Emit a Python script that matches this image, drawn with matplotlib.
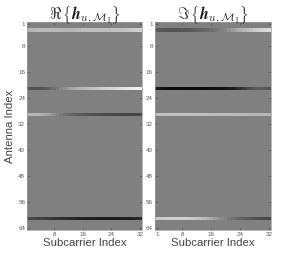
import numpy as np
import matplotlib
matplotlib.use("Agg")
import matplotlib.pyplot as plt

plt.rcParams['font.family'] = ['Liberation Sans', 'DejaVu Sans']
plt.rcParams['mathtext.fontset'] = 'cm'

n_ant = 64
n_sub = 32
y_ticks = [1, 8, 16, 24, 32, 40, 48, 56, 64]
x_ticks_left = [8, 16, 24, 32]
x_ticks_right = [1, 8, 16, 24, 32]

# Active antenna rows (1-based)
band_rows = [3, 21, 29, 61]

# Real part, values per subcarrier for each active row
re_row3 = [0.40, 0.42, 0.44, 0.45, 0.46, 0.46, 0.46, 0.45, 0.44, 0.43, 0.42, 0.42,
           0.43, 0.44, 0.46, 0.48, 0.49, 0.50, 0.50, 0.50, 0.50, 0.50, 0.50, 0.50,
           0.51, 0.52, 0.53, 0.55, 0.57, 0.60, 0.62, 0.64]
re_row21 = [-0.35, -0.36, -0.36, -0.35, -0.32, -0.27, -0.20, -0.12, -0.04, 0.04, 0.14, 0.22,
            0.30, 0.35, 0.40, 0.44, 0.47, 0.50, 0.53, 0.56, 0.59, 0.62, 0.65, 0.68,
            0.71, 0.74, 0.77, 0.80, 0.83, 0.86, 0.88, 0.90]
re_row29 = [0.40, 0.42, 0.42, 0.40, 0.36, 0.30, 0.22, 0.13, 0.04, -0.04, -0.12, -0.18,
            -0.22, -0.26, -0.29, -0.31, -0.33, -0.35, -0.36, -0.38, -0.39, -0.40, -0.41, -0.42,
            -0.43, -0.44, -0.45, -0.45, -0.46, -0.46, -0.46, -0.45]
re_row61 = [-0.42, -0.44, -0.46, -0.48, -0.50, -0.52, -0.55, -0.58, -0.60, -0.62, -0.64, -0.66,
            -0.68, -0.70, -0.72, -0.73, -0.74, -0.75, -0.76, -0.76, -0.77, -0.77, -0.77, -0.77,
            -0.77, -0.77, -0.76, -0.75, -0.74, -0.72, -0.70, -0.68]

# Imaginary part
im_row3 = [-0.30, -0.32, -0.33, -0.34, -0.34, -0.34, -0.33, -0.32, -0.31, -0.30, -0.28, -0.26,
           -0.24, -0.21, -0.18, -0.14, -0.10, -0.05, 0.00, 0.06, 0.14, 0.22, 0.30, 0.37,
           0.43, 0.48, 0.53, 0.58, 0.62, 0.66, 0.70, 0.72]
im_row21 = [-0.80, -0.84, -0.87, -0.89, -0.90, -0.91, -0.92, -0.92, -0.92, -0.92, -0.92, -0.92,
            -0.92, -0.92, -0.91, -0.90, -0.89, -0.88, -0.86, -0.84, -0.80, -0.76, -0.70, -0.62,
            -0.54, -0.46, -0.38, -0.31, -0.27, -0.27, -0.30, -0.35]
im_row29 = [0.48, 0.50, 0.51, 0.52, 0.52, 0.52, 0.52, 0.52, 0.52, 0.52, 0.51, 0.51,
            0.50, 0.50, 0.50, 0.49, 0.49, 0.48, 0.48, 0.47, 0.47, 0.46, 0.46, 0.45,
            0.45, 0.44, 0.44, 0.43, 0.43, 0.42, 0.42, 0.42]
im_row61 = [0.58, 0.60, 0.62, 0.63, 0.64, 0.64, 0.64, 0.63, 0.62, 0.60, 0.58, 0.55,
            0.51, 0.46, 0.40, 0.33, 0.25, 0.17, 0.09, 0.02, -0.05, -0.11, -0.17, -0.22,
            -0.26, -0.30, -0.33, -0.36, -0.38, -0.40, -0.41, -0.42]

re_bands = [re_row3, re_row21, re_row29, re_row61]
im_bands = [im_row3, im_row21, im_row29, im_row61]

H_re = np.zeros((n_ant, n_sub))
H_im = np.zeros((n_ant, n_sub))
for r, vr, vi in zip(band_rows, re_bands, im_bands):
    H_re[r - 1, :] = vr
    H_im[r - 1, :] = vi

fig = plt.figure(figsize=(2.9, 2.59), dpi=100)
W, Hh = 290.0, 259.0
ax1 = fig.add_axes([27.3 / W, 1 - 230 / Hh, 114.4 / W, 208 / Hh])
ax2 = fig.add_axes([155.0 / W, 1 - 230 / Hh, 115.7 / W, 208 / Hh])

titles = [r'$\Re\,\left\{\mathbfit{h}_{u,\mathcal{M}_1}\right\}$',
          r'$\Im\,\left\{\mathbfit{h}_{u,\mathcal{M}_1}\right\}$']
tick_col = '#5a5a5a'
for ax, data, title, xt in zip([ax1, ax2], [H_re, H_im], titles, [x_ticks_left, x_ticks_right]):
    ax.imshow(data, cmap='gray', vmin=-1, vmax=1, aspect='auto',
              extent=[0.5, n_sub + 0.5, n_ant + 0.5, 0.5], interpolation='nearest')
    ax.set_yticks(y_ticks)
    ax.set_xticks(xt)
    ax.tick_params(direction='in', top=True, right=True, length=2, width=0.5,
                   labelsize=4.5, colors=tick_col, pad=1.5)
    for s in ax.spines.values():
        s.set_color('#9a9a9a')
        s.set_linewidth(0.5)
    ax.set_title(title, fontsize=11.5, pad=2, color='#222222')
    ax.set_xlabel('Subcarrier Index', fontsize=8.2, color='#444444', labelpad=1)

ax1.set_ylabel('Antenna Index', fontsize=8.2, color='#444444', labelpad=2)

fig.savefig('out.png', dpi=100)
